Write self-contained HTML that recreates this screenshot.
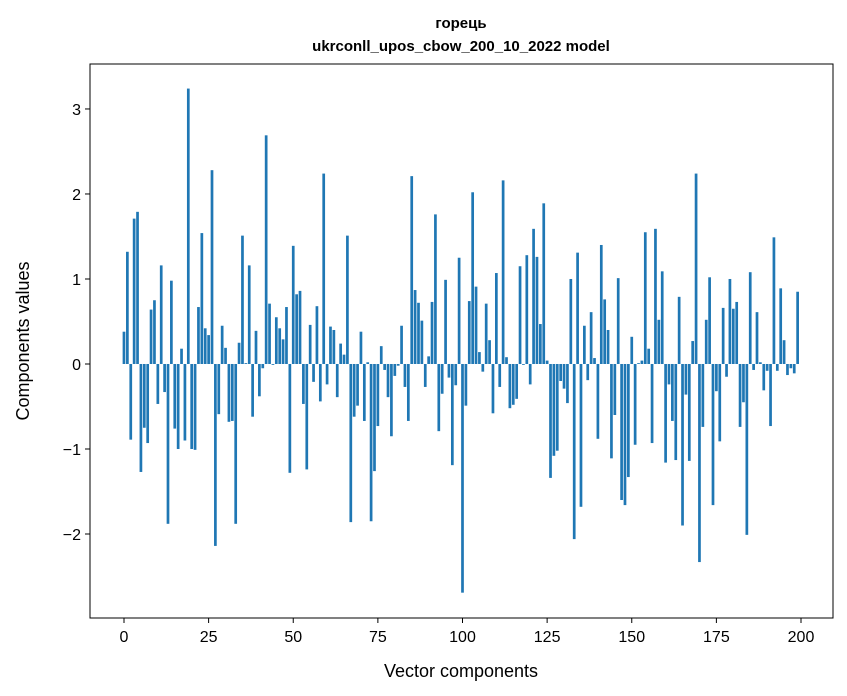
<!DOCTYPE html>
<html><head><meta charset="utf-8"><style>
body{margin:0;background:#fff}
svg{display:block;font-family:"Liberation Sans","DejaVu Sans",sans-serif}
</style></head><body>
<svg id="chart" width="847" height="696" viewBox="0 0 847 696" xmlns="http://www.w3.org/2000/svg">
<rect width="847" height="696" fill="#fff"/>
<text x="461" y="28" text-anchor="middle" font-size="15" font-weight="bold">горець</text>
<text x="461" y="51" text-anchor="middle" font-size="15" font-weight="bold">ukrconll_upos_cbow_200_10_2022 model</text>
<g id="bars"></g>
<g id="xticks"></g>
<g id="yticks"></g>
<rect x="90" y="64" width="743" height="554" fill="none" stroke="#000" stroke-width="1"/>
<text x="461" y="677" text-anchor="middle" font-size="18">Vector components</text>
<text transform="translate(29,341) rotate(-90)" text-anchor="middle" font-size="18">Components values</text>
</svg>
<script>
const values = [0.38,1.32,-0.89,1.71,1.79,-1.27,-0.75,-0.93,0.64,0.75,
-0.47,1.16,-0.33,-1.88,0.98,-0.76,-1.0,0.18,-0.9,3.24,
-1.0,-1.01,0.67,1.54,0.42,0.34,2.28,-2.14,-0.59,0.45,
0.19,-0.68,-0.67,-1.88,0.25,1.51,0.01,1.16,-0.62,0.39,
-0.38,-0.05,2.69,0.71,-0.01,0.55,0.42,0.29,0.67,-1.28,
1.39,0.82,0.86,-0.47,-1.24,0.46,-0.21,0.68,-0.44,2.24,
-0.24,0.44,0.40,-0.39,0.24,0.11,1.51,-1.86,-0.62,-0.49,
0.38,-0.67,0.02,-1.85,-1.26,-0.73,0.21,-0.07,-0.39,-0.85,
-0.14,-0.02,0.45,-0.27,-0.67,2.21,0.87,0.72,0.51,-0.27,
0.09,0.73,1.76,-0.79,-0.35,0.99,-0.16,-1.19,-0.25,1.25,
-2.69,-0.49,0.74,2.02,0.91,0.14,-0.09,0.71,0.28,-0.58,
1.07,-0.27,2.16,0.08,-0.52,-0.48,-0.41,1.15,-0.01,1.28,
-0.24,1.59,1.26,0.47,1.89,0.04,-1.34,-1.08,-1.02,-0.20,
-0.29,-0.46,1.0,-2.06,1.31,-1.68,0.45,-0.19,0.61,0.07,
-0.88,1.40,0.76,0.40,-1.11,-0.60,1.01,-1.60,-1.66,-1.33,
0.32,-0.95,0.01,0.04,1.55,0.18,-0.93,1.59,0.52,1.09,
-1.16,-0.24,-0.67,-1.13,0.79,-1.90,-0.36,-1.14,0.27,2.24,
-2.33,-0.74,0.52,1.02,-1.66,-0.32,-0.91,0.66,-0.15,1.0,
0.65,0.73,-0.74,-0.45,-2.01,1.08,-0.07,0.61,0.02,-0.31,
-0.08,-0.73,1.49,-0.08,0.89,0.28,-0.13,-0.05,-0.11,0.85];
const xTicks = [0,25,50,75,100,125,150,175,200];
const yTicks = [-2,-1,0,1,2,3];
const yTickLabels = ["\u22122","\u22121","0","1","2","3"];

const NS = "http://www.w3.org/2000/svg";
const L=90,R=833,T=64,B=618, XMIN=-10.04, XMAX=209.45, YMIN=-2.988, YMAX=3.529;
function xs(v){return L+(v-XMIN)/(XMAX-XMIN)*(R-L);}
function ys(v){return B-(v-YMIN)/(YMAX-YMIN)*(B-T);}
const bars=document.getElementById('bars');
values.forEach((v,i)=>{
  const r=document.createElementNS(NS,'rect');
  const x0=xs(i-0.4), x1=xs(i+0.4);
  const y0=ys(Math.max(v,0)), y1=ys(Math.min(v,0));
  r.setAttribute('x',x0);r.setAttribute('width',x1-x0);
  r.setAttribute('y',y0);r.setAttribute('height',Math.max(y1-y0,0.3));
  r.setAttribute('fill','#1f77b4');
  
  
  bars.appendChild(r);
});
const xg=document.getElementById('xticks');
xTicks.forEach(t=>{
  const x=xs(t);
  const l=document.createElementNS(NS,'line');
  l.setAttribute('x1',x);l.setAttribute('x2',x);l.setAttribute('y1',B);l.setAttribute('y2',B+5);l.setAttribute('stroke','#000');
  
  
  xg.appendChild(l);
  const tx=document.createElementNS(NS,'text');
  tx.setAttribute('x',x);tx.setAttribute('y',B+24);tx.setAttribute('text-anchor','middle');tx.setAttribute('font-size','16');
  tx.textContent=String(t);
  
  
  xg.appendChild(tx);
});
const yg=document.getElementById('yticks');
yTicks.forEach((t,k)=>{
  const y=ys(t);
  const l=document.createElementNS(NS,'line');
  l.setAttribute('x1',L-5);l.setAttribute('x2',L);l.setAttribute('y1',y);l.setAttribute('y2',y);l.setAttribute('stroke','#000');
  
  
  yg.appendChild(l);
  const tx=document.createElementNS(NS,'text');
  tx.setAttribute('x',L-9);tx.setAttribute('y',y+6);tx.setAttribute('text-anchor','end');tx.setAttribute('font-size','16');
  tx.textContent=yTickLabels[k];
  
  
  yg.appendChild(tx);
});
</script>
</body></html>
